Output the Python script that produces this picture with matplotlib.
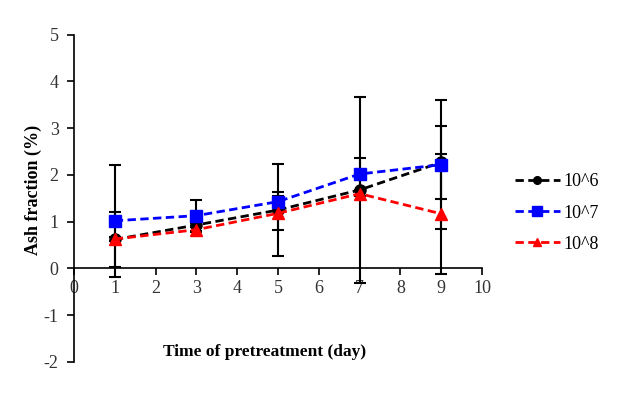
import matplotlib
matplotlib.use("Agg")
import matplotlib.pyplot as plt

days = [1, 3, 5, 7, 9]
labels = ["10^6", "10^7", "10^8"]
ash_1e6 = [0.62, 0.93, 1.25, 1.68, 2.27]
ash_1e7 = [1.02, 1.13, 1.43, 2.02, 2.22]
ash_1e8 = [0.63, 0.83, 1.18, 1.60, 1.17]
err_1e6 = [0.58, 0.05, 0.98, 1.99, 0.78]
err_1e7 = [1.20, 0.33, 0.20, 0.34, 1.38]
err_1e8 = [0.05, 0.05, 0.36, 0.05, 1.28]
xticks = list(range(0, 11))
yticks = list(range(-2, 6))

plt.rcParams['font.family'] = ['Liberation Serif', 'DejaVu Serif']
plt.rcParams['axes.unicode_minus'] = False

fig = plt.figure(figsize=(6.25, 4.12), dpi=100)
ax = fig.add_axes([74/625, 1-362/412, (482-74)/625, (362-34.7)/412])

series = [
    (ash_1e6, err_1e6, 'black', 'o', 8),
    (ash_1e7, err_1e7, '#0000FF', 's', 9),
    (ash_1e8, err_1e8, '#FF0000', '^', 8),
]
for vals, errs, col, mk, ms in series:
    ax.errorbar(days, vals, yerr=errs, fmt='none', ecolor='black',
                elinewidth=1.5, capsize=4, capthick=1.5, zorder=2)
handles = []
for (vals, errs, col, mk, ms), lab in zip(series, labels):
    ax.plot(days, vals, linestyle=(0, (3, 1.6)), color=col, lw=2,
            marker=mk, markersize=ms, markeredgecolor=col, zorder=3)
    h, = ax.plot([], [], linestyle=(0, (3, 1.6)), color=col, lw=2,
                 marker=mk, markersize=ms - 2.5, markeredgecolor=col)
    handles.append(h)

ax.set_xlim(0, 10)
ax.set_ylim(-2, 5)
ax.set_xticks(xticks)
ax.set_yticks(yticks)
ax.spines['top'].set_visible(False)
ax.spines['right'].set_visible(False)
ax.spines['bottom'].set_position(('data', 0))
ax.spines['left'].set_linewidth(1.2)
ax.spines['bottom'].set_linewidth(1.2)
ax.tick_params(direction='out', length=5, width=1.2, labelsize=13, colors='black')
ax.tick_params(axis='y', pad=6)
ax.tick_params(axis='x', pad=3)
for t in ax.get_xticklabels() + ax.get_yticklabels():
    t.set_color('#333333')

ax.set_ylabel('Ash fraction (%)', fontsize=13, fontweight='bold')
ax.yaxis.set_label_coords((42 - 74) / 408, (362 - 190) / (362 - 34.7))
fig.text(265/625, 1-352/412, 'Time of pretreatment (day)', fontsize=12.5,
         fontweight='bold', ha='center', va='center')

leg = ax.legend(handles, labels, loc='center left', bbox_to_anchor=(1.04, 0.455),
                frameon=False, fontsize=13, handlelength=2.5, labelspacing=0.78,
                handletextpad=0.2)

fig.savefig('out.png', dpi=100)
